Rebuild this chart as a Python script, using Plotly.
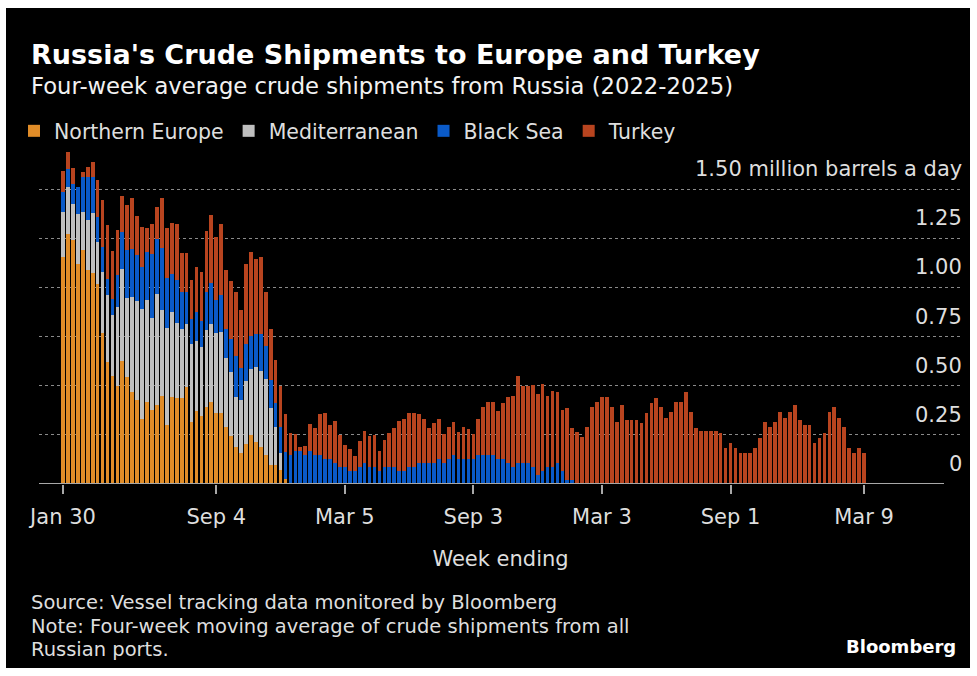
import pandas as pd
import plotly.graph_objects as go

# Weekly observations (week ending), Jan 30 2022 through Mar 9 2025
weeks = pd.date_range("2022-01-30", periods=163, freq="7D")

# Four-week average crude shipments, million barrels a day
northern_europe = [
    1.154, 1.272, 1.239, 1.120, 1.191, 1.090, 1.074, 1.015, 0.768, 0.621,
    0.548, 0.497, 0.624, 0.543, 0.469, 0.426, 0.328, 0.418, 0.376, 0.401,
    0.447, 0.299, 0.443, 0.435, 0.435, 0.491, 0.316, 0.372, 0.345, 0.393,
    0.418, 0.359, 0.362, 0.291, 0.244, 0.190, 0.159, 0.203, 0.249, 0.213,
    0.190, 0.147, 0.096, 0.096, 0.071, 0.024,
] + [0.0] * 117

mediterranean = [
    0.228, 0.237, 0.186, 0.254, 0.191, 0.250, 0.303, 0.215, 0.310, 0.338,
    0.310, 0.403, 0.471, 0.405, 0.482, 0.505, 0.564, 0.516, 0.470, 0.567,
    0.436, 0.495, 0.432, 0.384, 0.355, 0.321, 0.398, 0.354, 0.352, 0.389,
    0.394, 0.409, 0.411, 0.352, 0.326, 0.250, 0.267, 0.320, 0.335, 0.383,
    0.385, 0.386, 0.291, 0.192, 0.088,
] + [0.0] * 118

black_sea = [
    0.102, 0.093, 0.101, 0.135, 0.178, 0.220, 0.183, 0.127, 0.127, 0.085,
    0.081, 0.161, 0.184, 0.240, 0.245, 0.231, 0.211, 0.244, 0.325, 0.276,
    0.318, 0.255, 0.194, 0.217, 0.186, 0.164, 0.127, 0.149, 0.130, 0.194,
    0.212, 0.166, 0.190, 0.144, 0.166, 0.210, 0.166, 0.188, 0.169, 0.169,
    0.190, 0.168, 0.144, 0.125, 0.129, 0.140, 0.147, 0.168, 0.168, 0.147,
    0.168, 0.147, 0.147, 0.127, 0.128, 0.106, 0.086, 0.086, 0.064, 0.064,
    0.086, 0.106, 0.086, 0.086, 0.064, 0.086, 0.086, 0.086, 0.064, 0.064,
    0.086, 0.086, 0.106, 0.106, 0.106, 0.106, 0.128, 0.106, 0.128, 0.148,
    0.128, 0.128, 0.128, 0.128, 0.146, 0.146, 0.146, 0.146, 0.128, 0.128,
    0.106, 0.086, 0.106, 0.106, 0.106, 0.086, 0.044, 0.064, 0.086, 0.086,
    0.106, 0.064, 0.022, 0.022,
] + [0.0] * 59

turkey = [
    0.107, 0.085, 0.080, 0.000, 0.025, 0.054, 0.076, 0.190, 0.240, 0.271,
    0.244, 0.232, 0.183, 0.233, 0.259, 0.202, 0.203, 0.125, 0.149, 0.167,
    0.254, 0.252, 0.258, 0.284, 0.198, 0.198, 0.195, 0.228, 0.251, 0.313,
    0.345, 0.322, 0.357, 0.299, 0.296, 0.326, 0.291, 0.406, 0.426, 0.381,
    0.389, 0.275, 0.259, 0.216, 0.211, 0.191, 0.110, 0.084, 0.022, 0.048,
    0.137, 0.136, 0.208, 0.235, 0.170, 0.214, 0.163, 0.113, 0.114, 0.079,
    0.135, 0.163, 0.160, 0.163, 0.106, 0.138, 0.175, 0.200, 0.256, 0.264,
    0.273, 0.273, 0.249, 0.227, 0.177, 0.202, 0.200, 0.148, 0.163, 0.165,
    0.138, 0.163, 0.153, 0.128, 0.182, 0.245, 0.272, 0.272, 0.242, 0.284,
    0.337, 0.362, 0.441, 0.392, 0.392, 0.416, 0.416, 0.443, 0.362, 0.387,
    0.362, 0.311, 0.362, 0.261, 0.263, 0.237, 0.288, 0.391, 0.418, 0.443,
    0.443, 0.391, 0.313, 0.401, 0.323, 0.323, 0.323, 0.308, 0.360, 0.412,
    0.438, 0.391, 0.338, 0.365, 0.418, 0.418, 0.470, 0.365, 0.286, 0.268,
    0.268, 0.268, 0.268, 0.261, 0.184, 0.209, 0.184, 0.157, 0.157, 0.157,
    0.184, 0.236, 0.313, 0.288, 0.313, 0.365, 0.338, 0.365, 0.402, 0.323,
    0.298, 0.298, 0.209, 0.236, 0.261, 0.365, 0.391, 0.338, 0.288, 0.184,
    0.157, 0.184, 0.157,
]

series_names = ["Northern Europe", "Mediterranean", "Black Sea", "Turkey"]
series_values = [northern_europe, mediterranean, black_sea, turkey]
series_colors = ["#e08c28", "#bfbfbf", "#0a5ac8", "#b8441f"]

x_tick_dates = ["2022-01-30", "2022-09-04", "2023-03-05", "2023-09-03",
                "2024-03-03", "2024-09-01", "2025-03-09"]
x_tick_labels = ["Jan 30", "Sep 4", "Mar 5", "Sep 3", "Mar 3", "Sep 1", "Mar 9"]

y_tick_values = [0, 0.25, 0.5, 0.75, 1.0, 1.25, 1.5]
y_tick_labels = ["0", "0.25", "0.50", "0.75", "1.00", "1.25",
                 "1.50 million barrels a day"]

# ---- page geometry (pixels) ----
W, H = 977, 676
L, R, T, B = 39, 962, 140, 484
FONT = "DejaVu Sans"
TEXT = "#dedede"


def fx(px):
    return (px - L) / (R - L)


def fy(py):
    return (B - py) / (B - T)


# date scale: first week sits at x=63 px, last at x=864 px
first, last = pd.Timestamp(x_tick_dates[0]), pd.Timestamp(x_tick_dates[-1])
days_per_px = (last - first).days / (864 - 63)
x_lo = first + pd.Timedelta(days=(L - 63) * days_per_px)
x_hi = first + pd.Timedelta(days=(R - 63) * days_per_px)
# 1.50 gridline sits at y=189 px
y_hi = 1.5 * (B - T) / (B - 189)

fig = go.Figure()
for name, vals, col in zip(series_names, series_values, series_colors):
    fig.add_trace(go.Bar(x=weeks, y=vals, name=name,
                         marker=dict(color=col, line=dict(width=0))))

annotations = []
for v, txt in zip(y_tick_values, y_tick_labels):
    annotations.append(dict(x=1, xref="paper", y=v, yref="y", text=txt,
                            showarrow=False, xanchor="right", yanchor="bottom",
                            xshift=2, yshift=6,
                            font=dict(family=FONT, size=21, color=TEXT)))


def text_line(txt, x_px, base_px, size, color, bold=False, anchor="left"):
    return dict(x=fx(x_px), xref="paper", y=fy(base_px - 0.35 * size), yref="paper",
                text=f"<b>{txt}</b>" if bold else txt, showarrow=False,
                xanchor=anchor, yanchor="middle",
                font=dict(family=FONT, size=size, color=color))


annotations += [
    text_line("Russia's Crude Shipments to Europe and Turkey", 29, 64, 27, "#ffffff", bold=True),
    text_line("Four-week average crude shipments from Russia (2022-2025)", 29, 94, 22.7, "#f2f2f2"),
    text_line("Source: Vessel tracking data monitored by Bloomberg", 29, 609, 19.5, TEXT),
    text_line("Note: Four-week moving average of crude shipments from all", 29, 633, 19.5, TEXT),
    text_line("Russian ports.", 29, 656, 19.5, TEXT),
    text_line("Bloomberg", 958, 653, 18, "#ffffff", bold=True, anchor="right"),
]

shapes = [
    # dark card behind everything
    dict(type="rect", xref="paper", yref="paper", x0=fx(6), x1=fx(970),
         y0=fy(668), y1=fy(8), fillcolor="#000000", line=dict(width=0), layer="below"),
    # baseline
    dict(type="line", xref="paper", yref="y", x0=0, x1=fx(944), y0=0, y1=0,
         line=dict(color="#a8a8a8", width=2), layer="above"),
]

fig.update_layout(
    width=W, height=H,
    margin=dict(l=L, r=W - R, t=T, b=H - B, pad=0),
    paper_bgcolor="#ffffff", plot_bgcolor="#000000",
    barmode="stack", bargap=0.25,
    font=dict(family=FONT, color=TEXT),
    showlegend=True,
    legend=dict(orientation="h", x=fx(14), y=fy(111), xanchor="left", yanchor="top",
                font=dict(family=FONT, size=20.5, color=TEXT),
                bgcolor="rgba(0,0,0,0)", traceorder="normal"),
    xaxis=dict(type="date", range=[x_lo.isoformat(), x_hi.isoformat()],
               tickvals=x_tick_dates, ticktext=x_tick_labels,
               ticks="outside", ticklen=9, tickwidth=1.5, tickcolor="#a8a8a8",
               ticklabelstandoff=5,
               tickfont=dict(family=FONT, size=21, color=TEXT),
               showgrid=False, zeroline=False, showline=False,
               title=dict(text="Week ending", standoff=23,
                          font=dict(family=FONT, size=21, color=TEXT))),
    yaxis=dict(range=[0, y_hi], tickvals=y_tick_values[1:], showticklabels=False,
               showgrid=True, gridcolor="#8a8a8a", griddash="dot", gridwidth=1,
               zeroline=False, showline=False, ticks=""),
    annotations=annotations,
    shapes=shapes,
)

fig.write_html("out.html")
